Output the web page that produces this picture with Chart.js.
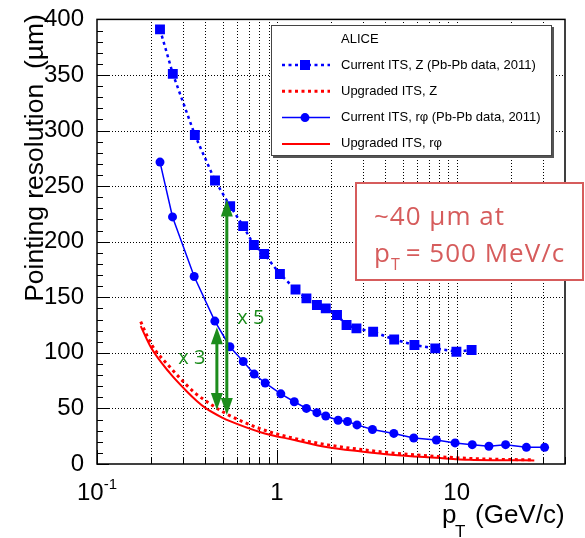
<!DOCTYPE html>
<html>
<head>
<meta charset="utf-8">
<script src="https://cdn.jsdelivr.net/npm/chart.js@4/dist/chart.umd.min.js"></script>
<style>
body { margin: 0; background: white; }
</style>
</head>
<body>
<canvas id="chart" width="585" height="538"></canvas>
<script>
// Current ITS, Z (Pb-Pb data, 2011)
const zPt = [0.224, 0.264, 0.35, 0.453, 0.55, 0.65, 0.745, 0.85, 1.04, 1.27, 1.46, 1.67, 1.87, 2.16, 2.44, 2.77, 3.43, 4.49, 5.82, 7.6, 9.96, 12.1];
const zRes = [391, 351, 296, 255, 232, 214, 197, 189, 171, 157, 149, 143, 140, 134, 125, 122, 119, 112, 107, 104, 101, 102.6];

// Upgraded ITS, Z
const upZPt = [0.175, 0.2, 0.255, 0.315, 0.35, 0.45, 0.5, 0.54, 0.82, 1.25, 1.92, 2.95, 4.33, 7.7, 11.8, 18, 27];
const upZRes = [128, 108, 87, 71, 64, 51.5, 47, 44, 31.4, 23, 17.2, 13, 10, 6.8, 5, 4.1, 3.8];

// Current ITS, r-phi (Pb-Pb data, 2011)
const rPt = [0.224, 0.263, 0.347, 0.452, 0.548, 0.65, 0.748, 0.861, 1.052, 1.25, 1.46, 1.67, 1.87, 2.19, 2.47, 2.79, 3.4, 4.47, 5.77, 7.71, 9.79, 12.2, 15.1, 18.7, 24.4, 30.8];
const rRes = [271.6, 222.3, 168.7, 128.6, 105.5, 92.2, 80.9, 72.9, 63.1, 56, 50, 46.2, 43.2, 39.4, 38.2, 35.2, 31, 27.5, 23.4, 21.6, 19, 17.4, 16, 17.4, 15, 15];

// Upgraded ITS, r-phi
const upRPt = [0.175, 0.2, 0.255, 0.315, 0.36, 0.4, 0.5, 0.54, 0.82, 1.25, 1.92, 2.95, 4.33, 7.7, 11.8, 18, 27];
const upRRes = [124, 104.5, 81.5, 65.5, 56.5, 50.5, 41.5, 39, 28.4, 21.6, 15, 11.2, 8.3, 5.6, 3.8, 3.4, 3.2];

const legendTitle = 'ALICE';
const seriesLabels = ['Current ITS, Z (Pb-Pb data, 2011)', 'Upgraded ITS, Z', 'Current ITS, r\u03C6 (Pb-Pb data, 2011)', 'Upgraded ITS, r\u03C6'];

const xGridValues = [0.1, 0.2, 0.3, 0.4, 0.5, 0.6, 0.7, 0.8, 0.9, 1, 2, 3, 4, 5, 6, 7, 8, 9, 10, 20, 30, 40];
const xLabelValues = [0.1, 1, 10];
const xLabelBase = ['10', '1', '10'];
const xLabelExp = ['-1', '', ''];

// improvement arrows (x, top, bottom) and their labels
const arrowPt = [0.464, 0.527];
const arrowTop = [123, 238];
const arrowBottom = [48.5, 44];
const arrowLabels = ['x 3', 'x 5'];
const arrowLabelPt = [0.337, 0.717];
const arrowLabelRes = [95, 131];

const noteLine1 = '~40 \u00B5m at';
const noteLine2 = ['p', 'T', '= 500 MeV/c'];

const BLUE = '#0000ff';
const RED = '#ff0000';
const GREEN = '#1c8c1c';
const NOTE = '#d65c5c';

function toPoints(xs, ys) {
  return xs.map(function(x, i) {
    return { x: x, y: ys[i] };
  });
}

function drawArrow(ctx, x, yTop, yBottom) {
  const head = 17, half = 6;
  ctx.save();
  ctx.fillStyle = GREEN;
  ctx.strokeStyle = GREEN;
  ctx.lineWidth = 3;
  ctx.beginPath();
  ctx.moveTo(x, yTop + head - 1);
  ctx.lineTo(x, yBottom - head + 1);
  ctx.stroke();
  ctx.beginPath();
  ctx.moveTo(x, yTop);
  ctx.lineTo(x - half, yTop + head);
  ctx.lineTo(x + half, yTop + head);
  ctx.closePath();
  ctx.fill();
  ctx.beginPath();
  ctx.moveTo(x, yBottom);
  ctx.lineTo(x - half, yBottom - head);
  ctx.lineTo(x + half, yBottom - head);
  ctx.closePath();
  ctx.fill();
  ctx.restore();
}

function drawLegend(ctx, datasets) {
  const x = 271, y = 25, w = 281, h = 131;
  ctx.save();
  ctx.fillStyle = '#555';
  ctx.fillRect(x + 2, y + 2, w, h);
  ctx.fillStyle = 'white';
  ctx.fillRect(x, y, w, h);
  ctx.strokeStyle = '#444';
  ctx.lineWidth = 1;
  ctx.strokeRect(x + 0.5, y + 0.5, w - 1, h - 1);

  ctx.fillStyle = 'black';
  ctx.font = '13px "Liberation Sans", Arial, sans-serif';
  ctx.textBaseline = 'middle';
  ctx.fillText(legendTitle, 341, 39.5);

  datasets.forEach(function(ds, i) {
    const ry = 65 + 26.3 * i;
    ctx.save();
    ctx.strokeStyle = ds.borderColor;
    ctx.lineWidth = ds.borderWidth;
    ctx.setLineDash(ds.borderDash || []);
    ctx.beginPath();
    ctx.moveTo(282, ry);
    ctx.lineTo(330, ry);
    ctx.stroke();
    ctx.restore();
    if (ds.pointRadius > 0) {
      ctx.fillStyle = ds.pointBackgroundColor;
      if (ds.pointStyle === 'rect') {
        ctx.fillRect(305 - 5, ry - 5, 10, 10);
      } else {
        ctx.beginPath();
        ctx.arc(305, ry, 4.5, 0, Math.PI * 2);
        ctx.fill();
      }
    }
    ctx.fillStyle = 'black';
    ctx.fillText(ds.label, 341, ry);
  });
  ctx.restore();
}

function drawNote(ctx) {
  ctx.save();
  ctx.fillStyle = 'white';
  ctx.fillRect(356, 183, 227, 97);
  ctx.strokeStyle = NOTE;
  ctx.lineWidth = 2;
  ctx.strokeRect(356, 183, 227, 97);
  ctx.fillStyle = NOTE;
  ctx.textBaseline = 'alphabetic';
  ctx.letterSpacing = '1px';
  ctx.font = '26px "Open Sans", sans-serif';
  ctx.fillText(noteLine1, 374, 225);
  let x = 374;
  ctx.fillText(noteLine2[0], x, 261.5);
  x += ctx.measureText(noteLine2[0]).width;
  ctx.font = '16px "Open Sans", sans-serif';
  ctx.fillText(noteLine2[1], x, 270);
  x += ctx.measureText(noteLine2[1]).width + 5;
  ctx.font = '26px "Open Sans", sans-serif';
  ctx.fillText(noteLine2[2], x, 261.5);
  ctx.restore();
}

const grid = {
  id: 'grid',
  beforeDatasetsDraw: function(chart) {
    const ctx = chart.ctx;
    const a = chart.chartArea;
    const xs = chart.scales.x;
    const ys = chart.scales.y;
    ctx.save();
    ctx.strokeStyle = '#000';
    ctx.lineWidth = 1;
    ctx.setLineDash([1, 2]);
    ctx.beginPath();
    xs.ticks.forEach(function(t) {
      const px = Math.round(xs.getPixelForValue(t.value)) + 0.5;
      if (px <= a.left + 1 || px >= a.right - 1) return;
      ctx.moveTo(px, a.bottom);
      ctx.lineTo(px, a.top);
    });
    ys.ticks.forEach(function(t) {
      const py = Math.round(ys.getPixelForValue(t.value)) + 0.5;
      if (py <= a.top + 1 || py >= a.bottom - 1) return;
      ctx.moveTo(a.left, py);
      ctx.lineTo(a.right, py);
    });
    ctx.stroke();
    ctx.restore();
  }
};

const decorations = {
  id: 'decorations',
  afterDraw: function(chart) {
    const ctx = chart.ctx;
    const a = chart.chartArea;
    const xs = chart.scales.x;
    const ys = chart.scales.y;

    ctx.save();
    // frame
    ctx.strokeStyle = 'black';
    ctx.lineWidth = 1.5;
    ctx.strokeRect(a.left, a.top, a.right - a.left, a.bottom - a.top);

    // ticks pointing inward
    ctx.lineWidth = 1;
    ctx.beginPath();
    for (let v = 0; v <= 400; v += 10) {
      const py = Math.round(ys.getPixelForValue(v)) + 0.5;
      ctx.moveTo(a.left, py);
      ctx.lineTo(a.left + (v % 50 === 0 ? 12 : 6), py);
    }
    xGridValues.forEach(function(v) {
      const px = Math.round(xs.getPixelForValue(v)) + 0.5;
      const major = xLabelValues.indexOf(v) >= 0;
      ctx.moveTo(px, a.bottom);
      ctx.lineTo(px, a.bottom - (major ? 14 : 7));
    });
    ctx.stroke();

    // x tick labels
    ctx.fillStyle = 'black';
    ctx.textBaseline = 'alphabetic';
    xLabelValues.forEach(function(v, i) {
      const px = xs.getPixelForValue(v);
      ctx.font = '24px "Liberation Sans", Arial, sans-serif';
      const wBase = ctx.measureText(xLabelBase[i]).width;
      ctx.font = '15px "Liberation Sans", Arial, sans-serif';
      const wExp = xLabelExp[i] ? ctx.measureText(xLabelExp[i]).width : 0;
      const left = px - (wBase + wExp) / 2;
      ctx.font = '24px "Liberation Sans", Arial, sans-serif';
      ctx.fillText(xLabelBase[i], left, 500);
      if (xLabelExp[i]) {
        ctx.font = '15px "Liberation Sans", Arial, sans-serif';
        ctx.fillText(xLabelExp[i], left + wBase, 489);
      }
    });

    // axis titles
    ctx.font = '26px "Liberation Sans", Arial, sans-serif';
    ctx.fillText('p', 442, 523);
    ctx.font = '17px "Liberation Sans", Arial, sans-serif';
    ctx.fillText('T', 455, 537);
    ctx.font = '26px "Liberation Sans", Arial, sans-serif';
    ctx.fillText('(GeV/c)', 475, 523);

    ctx.save();
    ctx.translate(43, 158);
    ctx.rotate(-Math.PI / 2);
    ctx.textAlign = 'center';
    ctx.font = '26.5px "Liberation Sans", Arial, sans-serif';
    ctx.fillText('Pointing resolution  (\u00B5m)', 0, 0);
    ctx.restore();

    drawLegend(ctx, chart.data.datasets);
    drawNote(ctx);

    // arrows and factors
    arrowPt.forEach(function(v, i) {
      drawArrow(ctx, xs.getPixelForValue(v), ys.getPixelForValue(arrowTop[i]), ys.getPixelForValue(arrowBottom[i]));
    });
    ctx.fillStyle = GREEN;
    ctx.font = '20px "Open Sans", sans-serif';
    ctx.textAlign = 'center';
    ctx.textBaseline = 'middle';
    arrowLabels.forEach(function(t, i) {
      ctx.fillText(t, xs.getPixelForValue(arrowLabelPt[i]), ys.getPixelForValue(arrowLabelRes[i]));
    });
    ctx.restore();
  }
};

const datasets = [
  {
    label: seriesLabels[0],
    data: toPoints(zPt, zRes),
    borderColor: BLUE,
    borderWidth: 2.5,
    borderDash: [3, 3.5],
    pointStyle: 'rect',
    pointRadius: 7,
    pointBorderWidth: 0,
    pointBackgroundColor: BLUE,
    tension: 0
  },
  {
    label: seriesLabels[1],
    data: toPoints(upZPt, upZRes),
    borderColor: RED,
    borderWidth: 3,
    borderDash: [3, 3.5],
    pointRadius: 0,
    cubicInterpolationMode: 'monotone'
  },
  {
    label: seriesLabels[2],
    data: toPoints(rPt, rRes),
    borderColor: BLUE,
    borderWidth: 1.5,
    pointStyle: 'circle',
    pointRadius: 4.5,
    pointBorderWidth: 0,
    pointBackgroundColor: BLUE,
    tension: 0
  },
  {
    label: seriesLabels[3],
    data: toPoints(upRPt, upRRes),
    borderColor: RED,
    borderWidth: 2,
    pointRadius: 0,
    cubicInterpolationMode: 'monotone'
  }
];

const ctx = document.getElementById('chart').getContext('2d');
const chart = new Chart(ctx, {
  type: 'line',
  data: { datasets: datasets },
  plugins: [grid, decorations],
  options: {
    responsive: false,
    animation: false,
    devicePixelRatio: 1,
    layout: { padding: { top: 14, right: 20, left: 0, bottom: 0 } },
    plugins: {
      legend: { display: false },
      tooltip: { enabled: false }
    },
    scales: {
      x: {
        type: 'logarithmic',
        min: 0.1,
        max: 40,
        afterBuildTicks: function(scale) {
          scale.ticks = xGridValues.map(function(v) { return { value: v }; });
        },
        afterFit: function(scale) { scale.height = 74; },
        ticks: { display: false },
        border: { display: false },
        grid: { display: false }
      },
      y: {
        min: 0,
        max: 400,
        afterFit: function(scale) { scale.width = 97; },
        ticks: {
          stepSize: 50,
          padding: 5,
          color: 'black',
          font: { family: '"Liberation Sans", Arial, sans-serif', size: 24 }
        },
        border: { display: false },
        grid: { display: false }
      }
    }
  }
});
</script>
</body>
</html>
